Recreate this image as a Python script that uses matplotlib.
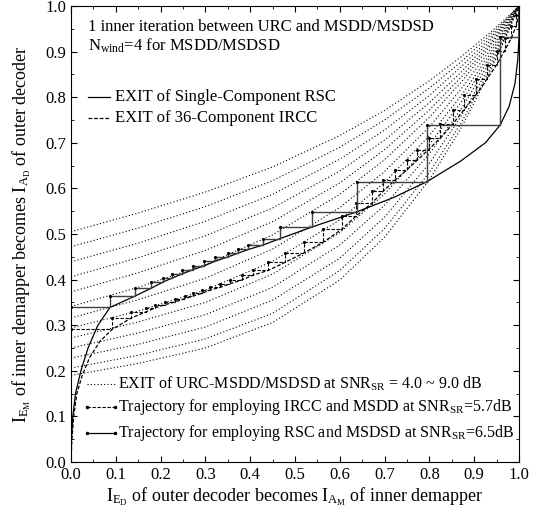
import matplotlib
matplotlib.use("Agg")
import matplotlib.pyplot as plt
from matplotlib.ticker import MultipleLocator

plt.rcParams["font.family"] = ["Liberation Serif", "DejaVu Serif"]
plt.rcParams["mathtext.fontset"] = "custom"
plt.rcParams["mathtext.rm"] = "Liberation Serif"
plt.rcParams["mathtext.it"] = "Liberation Serif:italic"

# inner demapper EXIT curves (URC-MSDD/MSDSD), SNR 4.0 ~ 9.0 dB
urc_x = [0, 0.15, 0.3, 0.45, 0.6, 0.7, 0.8, 0.87, 0.93, 0.97, 1.0]
urc_y = [
    [0.505, 0.546, 0.592, 0.647, 0.716, 0.771, 0.836, 0.888, 0.937, 0.972, 1.0],
    [0.472, 0.513, 0.560, 0.617, 0.690, 0.750, 0.820, 0.877, 0.931, 0.969, 1.0],
    [0.439, 0.480, 0.528, 0.587, 0.664, 0.728, 0.804, 0.866, 0.924, 0.967, 1.0],
    [0.406, 0.448, 0.496, 0.557, 0.638, 0.706, 0.788, 0.854, 0.918, 0.964, 1.0],
    [0.373, 0.415, 0.464, 0.527, 0.612, 0.685, 0.772, 0.843, 0.911, 0.961, 1.0],
    [0.341, 0.383, 0.433, 0.498, 0.587, 0.663, 0.756, 0.832, 0.905, 0.958, 1.0],
    [0.316, 0.356, 0.403, 0.467, 0.558, 0.637, 0.735, 0.817, 0.896, 0.954, 1.0],
    [0.294, 0.331, 0.377, 0.440, 0.531, 0.613, 0.716, 0.802, 0.887, 0.950, 1.0],
    [0.272, 0.307, 0.350, 0.412, 0.503, 0.588, 0.696, 0.788, 0.879, 0.946, 1.0],
    [0.250, 0.283, 0.323, 0.383, 0.476, 0.563, 0.676, 0.773, 0.870, 0.942, 1.0],
    [0.228, 0.258, 0.296, 0.355, 0.447, 0.537, 0.655, 0.757, 0.860, 0.938, 1.0],
    [0.206, 0.234, 0.270, 0.326, 0.420, 0.512, 0.635, 0.742, 0.852, 0.933, 1.0],
    [0.190, 0.216, 0.250, 0.306, 0.399, 0.493, 0.619, 0.731, 0.845, 0.930, 1.0],
]

# outer decoder EXIT curves (x = I_E_D, y = I_A_D)
rsc_x = [0, 0.001, 0.004, 0.010, 0.022, 0.038, 0.060, 0.087, 0.143, 0.179, 0.206,
         0.225, 0.247, 0.273, 0.297, 0.321, 0.351, 0.373, 0.396, 0.429, 0.467, 0.537,
         0.639, 0.72, 0.795, 0.87, 0.925, 0.958, 0.978, 0.991, 0.997, 1.0, 1.0]
rsc_y = [0, 0.05, 0.10, 0.15, 0.20, 0.25, 0.30, 0.339, 0.364, 0.381, 0.395,
         0.403, 0.412, 0.422, 0.430, 0.440, 0.450, 0.458, 0.466, 0.476, 0.490, 0.515,
         0.549, 0.58, 0.615, 0.66, 0.70, 0.739, 0.78, 0.83, 0.88, 0.931, 1.0]

ircc_x = [0, 0.002, 0.006, 0.013, 0.025, 0.042, 0.065, 0.092, 0.135, 0.167, 0.188,
          0.21, 0.232, 0.254, 0.273, 0.293, 0.31, 0.333, 0.355, 0.381, 0.407, 0.44,
          0.478, 0.519, 0.563, 0.604, 0.637, 0.671, 0.697, 0.723, 0.749, 0.773, 0.798,
          0.824, 0.852, 0.877, 0.904, 0.928, 0.95, 0.968, 0.983, 0.994, 1.0, 1.0]
ircc_y = [0, 0.05, 0.10, 0.15, 0.19, 0.23, 0.265, 0.291, 0.316, 0.329, 0.338,
          0.345, 0.351, 0.358, 0.364, 0.370, 0.377, 0.383, 0.391, 0.399, 0.41, 0.42,
          0.438, 0.458, 0.482, 0.51, 0.54, 0.567, 0.594, 0.618, 0.64, 0.662, 0.685,
          0.71, 0.741, 0.772, 0.805, 0.839, 0.871, 0.902, 0.93, 0.957, 0.98, 1.0]

# decoding trajectories: staircase corners (x_k, y_k)
traj_ircc_x = [0, 0.092, 0.135, 0.167, 0.188, 0.21, 0.232, 0.254, 0.273, 0.293, 0.31,
               0.333, 0.355, 0.381, 0.407, 0.44, 0.478, 0.519, 0.563, 0.604, 0.637,
               0.671, 0.697, 0.723, 0.749, 0.773, 0.798, 0.824, 0.852, 0.877, 0.904,
               0.928, 0.95, 0.968, 0.983, 0.994, 1.0]
traj_ircc_y = [0.291, 0.316, 0.329, 0.338, 0.345, 0.351, 0.358, 0.364, 0.370, 0.377,
               0.383, 0.391, 0.399, 0.41, 0.42, 0.438, 0.458, 0.482, 0.51, 0.54, 0.567,
               0.594, 0.618, 0.64, 0.662, 0.685, 0.71, 0.741, 0.772, 0.805, 0.839,
               0.871, 0.902, 0.93, 0.957, 0.98, 1.0]
traj_rsc_x = [0, 0.087, 0.143, 0.179, 0.206, 0.225, 0.247, 0.273, 0.297, 0.321, 0.351,
              0.373, 0.396, 0.429, 0.467, 0.537, 0.639, 0.795, 0.958, 1.0]
traj_rsc_y = [0.339, 0.364, 0.381, 0.395, 0.403, 0.412, 0.422, 0.430, 0.440, 0.450,
              0.458, 0.466, 0.476, 0.490, 0.515, 0.549, 0.615, 0.739, 0.931, 1.0]


def staircase(xs, ys):
    px, py = [xs[0]], [ys[0]]
    for k in range(1, len(xs)):
        px += [xs[k], xs[k]]; py += [ys[k - 1], ys[k]]
    return px, py


fig = plt.figure(figsize=(5.36, 5.08), dpi=100)
ax = fig.add_axes([0.1325, 0.0906, 0.8358, 0.8976])

for yy in urc_y:
    ax.plot(urc_x, yy, color="k", lw=0.8, ls=(0, (1, 2)))
ax.plot(rsc_x, rsc_y, "k-", lw=0.9)
ax.plot(ircc_x, ircc_y, color="k", lw=0.9, ls=(0, (3, 1.5)))

sx, sy = staircase(traj_ircc_x, traj_ircc_y)
ax.plot(sx, sy, color="k", lw=0.8, ls=(0, (3, 1.5)))
ax.plot(traj_ircc_x, traj_ircc_y, "k.", ms=2.5)
sx, sy = staircase(traj_rsc_x, traj_rsc_y)
ax.plot(sx, sy, color="0.25", lw=1.0)
ax.plot(traj_rsc_x, traj_rsc_y, "k.", ms=2.5)

# in-plot annotations / hand-made legend
fs = 11.5
ax.text(0.038, 0.954, "1 inner iteration between URC and MSDD/MSDSD", fontsize=12, va="center")
ax.text(0.038, 0.912, r"N$_{\mathrm{wind}}$=4 for MSDD/MSDSD", fontsize=12, va="center")
ax.plot([0.038, 0.088], [0.80, 0.80], "k-", lw=0.9)
ax.text(0.098, 0.80, "EXIT of Single-Component RSC", fontsize=12, va="center")
ax.plot([0.038, 0.088], [0.754, 0.754], color="k", lw=0.9, ls=(0, (3, 1.5)))
ax.text(0.098, 0.754, "EXIT of 36-Component IRCC", fontsize=12, va="center")

ax.plot([0.036, 0.098], [0.172, 0.172], color="k", lw=0.8, ls=(0, (1, 2)))
ax.text(0.105, 0.172, r"EXIT of URC-MSDD/MSDSD at SNR$_{\mathrm{SR}}$ = 4.0 ~ 9.0 dB",
        fontsize=fs, va="center")
ax.plot([0.036, 0.098], [0.12, 0.12], color="k", lw=0.8, ls=(0, (3, 1.5)),
        marker=".", ms=3)
ax.text(0.105, 0.12, r"Trajectory for employing IRCC and MSDD at SNR$_{\mathrm{SR}}$=5.7dB",
        fontsize=fs, va="center")
ax.plot([0.036, 0.098], [0.063, 0.063], color="k", lw=0.9, marker=".", ms=3)
ax.text(0.105, 0.063, r"Trajectory for employing RSC and MSDSD at SNR$_{\mathrm{SR}}$=6.5dB",
        fontsize=fs, va="center")

ax.set_xlim(0, 1); ax.set_ylim(0, 1)
ax.xaxis.set_major_locator(MultipleLocator(0.1)); ax.xaxis.set_minor_locator(MultipleLocator(0.05))
ax.yaxis.set_major_locator(MultipleLocator(0.1)); ax.yaxis.set_minor_locator(MultipleLocator(0.05))
ax.tick_params(which="both", direction="in", top=True, right=True, labelsize=12)
ax.tick_params(which="major", length=4)
ax.tick_params(which="minor", length=2)
ax.xaxis.set_major_formatter(matplotlib.ticker.FormatStrFormatter("%.1f"))
ax.yaxis.set_major_formatter(matplotlib.ticker.FormatStrFormatter("%.1f"))
ax.set_xlabel(r"I$_{\mathrm{E}_{\mathrm{D}}}$ of outer decoder becomes I$_{\mathrm{A}_{\mathrm{M}}}$ of inner demapper",
              fontsize=13, labelpad=2)
ax.set_ylabel(r"I$_{\mathrm{E}_{\mathrm{M}}}$ of inner demapper becomes I$_{\mathrm{A}_{\mathrm{D}}}$ of outer decoder",
              fontsize=13, labelpad=9)

fig.savefig("out.png", dpi=100)
